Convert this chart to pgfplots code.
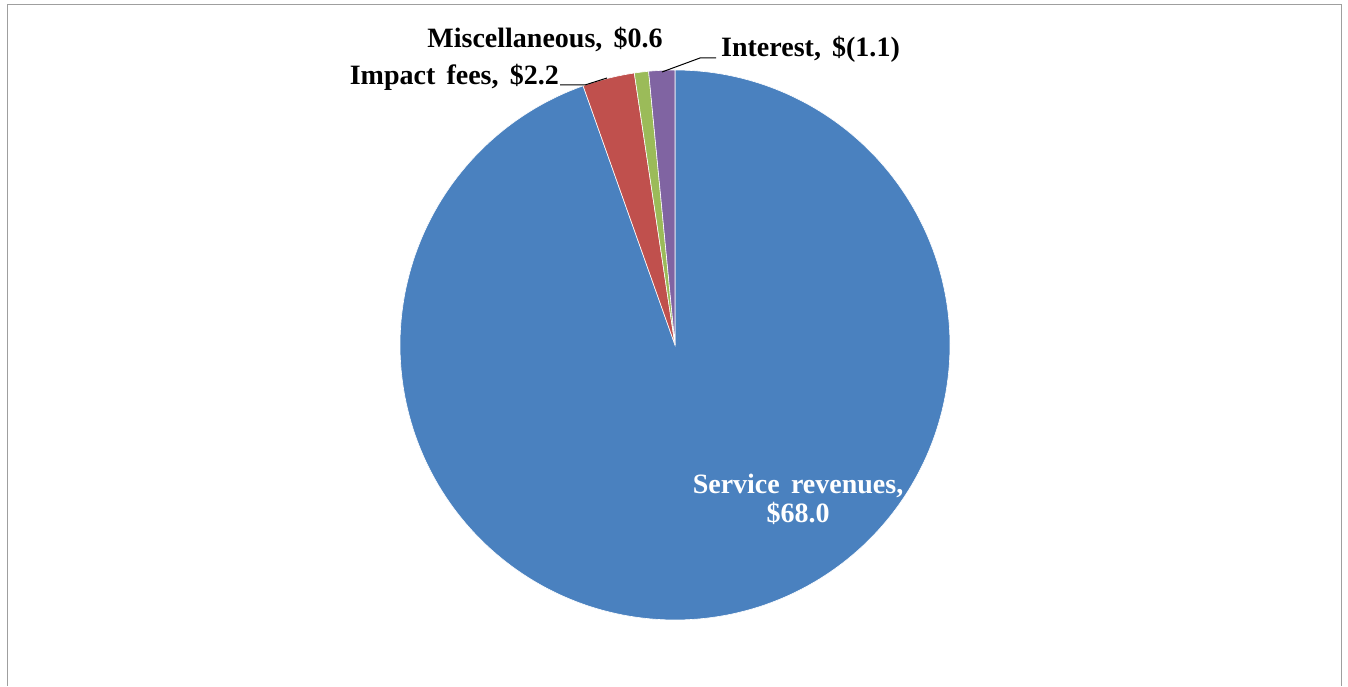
\documentclass[border=0pt]{standalone}
\usepackage{fontspec}
\setmainfont[WordSpace=1.6]{Liberation Serif}
\usepackage{pgfplots}
\pgfplotsset{compat=1.18}
\definecolor{svc}{HTML}{4A81BF}
\definecolor{imp}{HTML}{C0504D}
\definecolor{misc}{HTML}{9BBB59}
\definecolor{intr}{HTML}{8064A2}
\newcommand\lbl{\fontsize{28}{32}\selectfont\bfseries}
\begin{document}
\begin{tikzpicture}
% values ($ millions); interest shown as its absolute size
\def\vA{68.0}\def\vB{2.2}\def\vC{0.6}\def\vD{1.1}
\pgfmathsetmacro\tot{\vA+\vB+\vC+\vD}
\pgfmathsetmacro\aA{90-360*(\vA/\tot)}
\pgfmathsetmacro\aB{\aA-360*(\vB/\tot)}
\pgfmathsetmacro\aC{\aB-360*(\vC/\tot)}
\pgfmathsetmacro\aD{\aC-360*(\vD/\tot)}
\def\cx{675}\def\cy{341}\def\r{275}
\begin{axis}[
  scale only axis, width=1348pt, height=686pt,
  xmin=0, xmax=1348, ymin=0, ymax=686,
  hide axis, clip=false,
]
% keep the whole chart area in the bounding box
\path (axis cs:0,0) rectangle (axis cs:1348,686);

\addplot[fill=svc, draw=white, line width=0.6pt, domain=\aA:90, samples=240]
  ({\cx+\r*cos(x)},{\cy+\r*sin(x)}) -- (axis cs:\cx,\cy) -- cycle;
\addplot[fill=imp, draw=white, line width=0.6pt, domain=\aB:\aA, samples=20]
  ({\cx+\r*cos(x)},{\cy+\r*sin(x)}) -- (axis cs:\cx,\cy) -- cycle;
\addplot[fill=misc, draw=white, line width=0.6pt, domain=\aC:\aB, samples=10]
  ({\cx+\r*cos(x)},{\cy+\r*sin(x)}) -- (axis cs:\cx,\cy) -- cycle;
\addplot[fill=intr, draw=white, line width=0.6pt, domain=\aD:\aC, samples=10]
  ({\cx+\r*cos(x)},{\cy+\r*sin(x)}) -- (axis cs:\cx,\cy) -- cycle;

% leader lines
\draw[black, line width=1pt] (axis cs:560,601) -- (axis cs:585,601) -- (axis cs:607,608);
\draw[black, line width=1pt] (axis cs:662,614) -- (axis cs:700,628) -- (axis cs:716,628);

% labels
\node[anchor=east, inner sep=0pt, font=\lbl] at (axis cs:559,609) {Impact fees, \$2.2};
\node[inner sep=0pt, font=\lbl] at (axis cs:545,646) {Miscellaneous, \$0.6};
\node[anchor=west, inner sep=0pt, font=\lbl] at (axis cs:721,637) {Interest, \$(1.1)};
\node[white, align=center, inner sep=0pt, font=\lbl] at (axis cs:798,187)
  {Service revenues,\\[-3pt]\$68.0};

% chart area frame (cut at the bottom)
\draw[gray!75, line width=1.6pt] (axis cs:7.5,0) -- (axis cs:7.5,681.5)
  -- (axis cs:1341.5,681.5) -- (axis cs:1341.5,0);
\end{axis}
\end{tikzpicture}
\end{document}
